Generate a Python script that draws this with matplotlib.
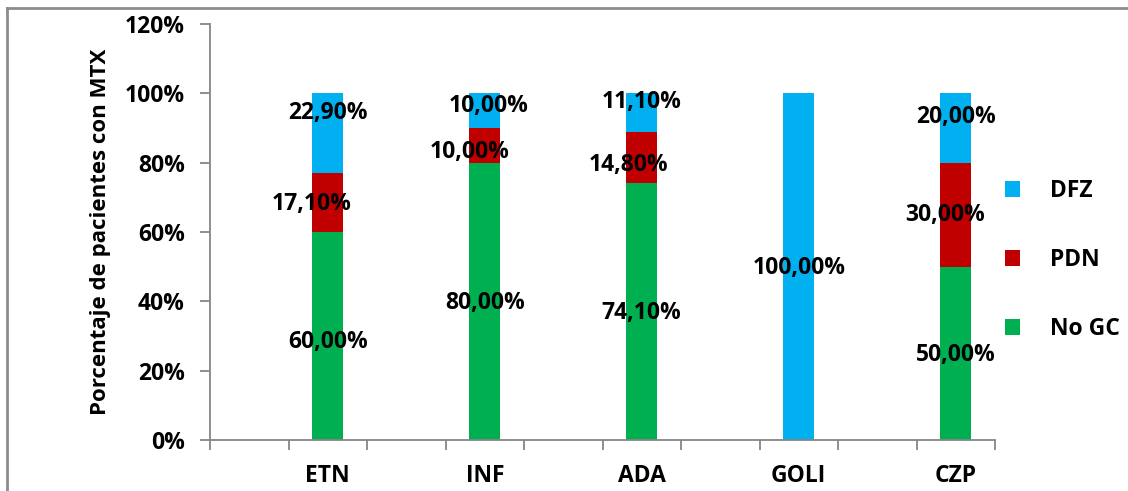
import matplotlib
matplotlib.use("Agg")
import matplotlib.pyplot as plt
from matplotlib.lines import Line2D
from matplotlib.patches import Patch
import numpy as np

# Data (percent of patients on MTX)
categories = ["ETN", "INF", "ADA", "GOLI", "CZP"]
no_gc = [60.0, 80.0, 74.1, 0.0, 50.0]
pdn = [17.1, 10.0, 14.8, 0.0, 30.0]
dfz = [22.9, 10.0, 11.1, 100.0, 20.0]
series_names = ["No GC", "PDN", "DFZ"]
y_ticks = [0, 20, 40, 60, 80, 100, 120]

colors = {"No GC": "#00B050", "PDN": "#C00000", "DFZ": "#00B0F0"}
axis_gray = "#868686"

# label nudges (dx in px, dy in percentage points) per series, per bar
nudge_dx = {"No GC": [0, 0, 0, 0, 0], "PDN": [-16, -15, -13, 0, -11], "DFZ": [0, 4, 0, 0, 0]}
nudge_dy = {"No GC": [-1.7, -0.5, -0.5, 0, -0.5], "PDN": [-0.4, -1.8, -2.2, 0, 0], "DFZ": [5.7, 1.3, 3.0, -0.4, 3.3]}

plt.rcParams["font.family"] = ["Open Sans", "DejaVu Sans"]
plt.rcParams["font.weight"] = "bold"
FS = 16.5

W, H = 1128, 491
fig = plt.figure(figsize=(W / 100, H / 100), dpi=100)
fig.patch.set_facecolor("white")

left, right, top, bottom = 210, 995, 24, 440
ax = fig.add_axes([left / W, 1 - bottom / H, (right - left) / W, (bottom - top) / H])

# bars sit in every other slot of a 10-slot category axis
x = np.arange(len(categories)) * 2 + 1
width = 0.4
series_vals = {"No GC": no_gc, "PDN": pdn, "DFZ": dfz}
base = np.zeros(len(categories))
for name in series_names:
    vals = np.array(series_vals[name])
    ax.bar(x, vals, width, bottom=base, color=colors[name], edgecolor="none", zorder=2)
    for i, v in enumerate(vals):
        if v > 0:
            ax.annotate(f"{v:.2f}%".replace(".", ","),
                        xy=(x[i], base[i] + v / 2 + nudge_dy[name][i]),
                        xytext=(nudge_dx[name][i] * 0.72, 0), textcoords="offset points",
                        ha="center", va="center", fontsize=FS, fontweight="bold",
                        color="black", zorder=3)
    base = base + vals

ax.set_xlim(-0.5, 9.5)
ax.set_ylim(0, 120)
ax.set_yticks(y_ticks)
ax.set_yticklabels([f"{t}%" for t in y_ticks], fontsize=FS, fontweight="bold")
ax.set_xticks(x)
ax.set_xticklabels(categories, fontsize=FS, fontweight="bold")
ax.set_xticks(np.arange(-0.5, 10, 1), minor=True)
ax.tick_params(axis="x", which="major", length=0, pad=17)
ax.tick_params(axis="x", which="minor", length=7, width=1.3, color=axis_gray, direction="out")
ax.tick_params(axis="y", length=7, width=1.3, color=axis_gray, direction="out", pad=11)

for s in ["top", "right"]:
    ax.spines[s].set_visible(False)
for s in ["left", "bottom"]:
    ax.spines[s].set_color(axis_gray)
    ax.spines[s].set_linewidth(1.3)

ax.set_ylabel("Porcentaje de pacientes con MTX", fontsize=16, fontweight="bold", labelpad=10)

# legend (top series first)
handles = [Patch(facecolor=colors[n], edgecolor="none") for n in ["DFZ", "PDN", "No GC"]]
leg = fig.legend(handles, ["DFZ", "PDN", "No GC"], loc="center left",
                 bbox_to_anchor=(984 / W, 1 - 260 / H), frameon=False,
                 prop={"size": FS, "weight": "bold"}, handlelength=0.68, handleheight=0.68,
                 handletextpad=1.3, labelspacing=1.95)

# outer chart border (top and left edges)
fig.add_artist(Line2D([7 / W, 7 / W], [0, 1 - 8 / H], color="#8c8c8c", lw=2, transform=fig.transFigure))
fig.add_artist(Line2D([7 / W, 1], [1 - 8 / H, 1 - 8 / H], color="#8c8c8c", lw=2, transform=fig.transFigure))

fig.savefig("out.png", dpi=100, facecolor="white")
